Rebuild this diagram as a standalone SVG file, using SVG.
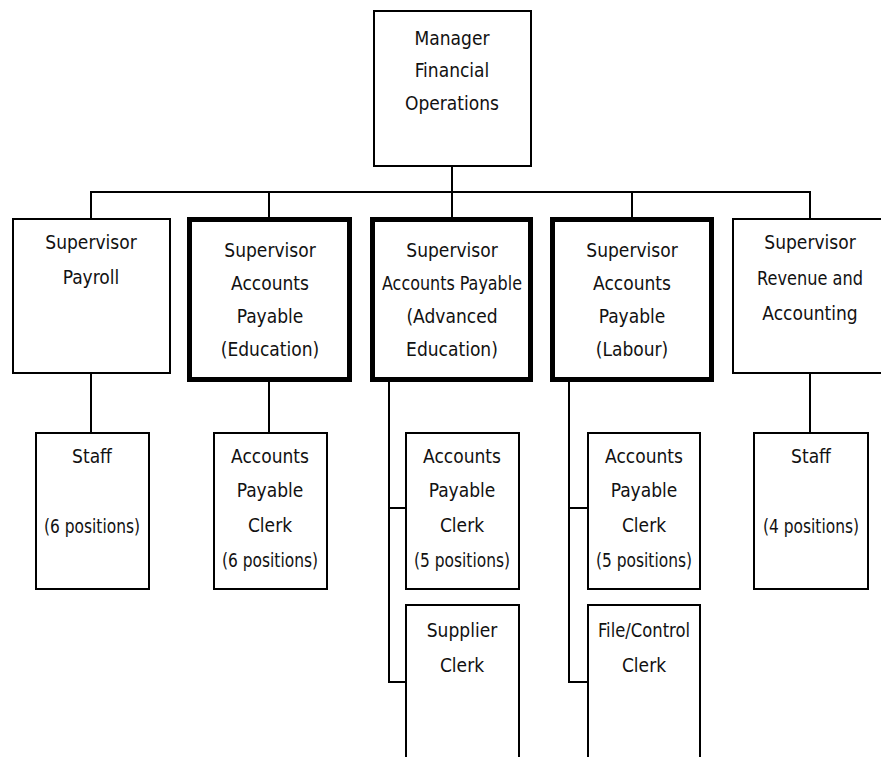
<svg xmlns="http://www.w3.org/2000/svg" width="881" height="757" viewBox="0 0 881 757">
<style>
.box{fill:#fff;stroke:#000;stroke-width:2}
.thick{fill:#fff;stroke:#000;stroke-width:5}
.conn line, .conn polyline{stroke:#000;stroke-width:2;fill:none}
text{font-family:"Liberation Sans Narrow","Arial Narrow","DejaVu Sans Condensed","Liberation Sans",sans-serif;font-size:19px;fill:#111;text-anchor:middle}
</style>
<rect width="881" height="757" fill="#fff"/>
<g id="connectors" class="conn">
<line x1="452" y1="166" x2="452" y2="192"/>
<line x1="90" y1="192" x2="811" y2="192"/>
<line x1="91" y1="192" x2="91" y2="219"/>
<line x1="269" y1="192" x2="269" y2="218"/>
<line x1="452" y1="192" x2="452" y2="218"/>
<line x1="632" y1="192" x2="632" y2="218"/>
<line x1="810" y1="192" x2="810" y2="219"/>
<line x1="91" y1="373" x2="91" y2="433"/>
<line x1="269" y1="381" x2="269" y2="433"/>
<polyline points="389,381 389,682 406,682"/>
<line x1="389" y1="508" x2="406" y2="508"/>
<polyline points="569,381 569,682 588,682"/>
<line x1="569" y1="508" x2="588" y2="508"/>
<line x1="810" y1="373" x2="810" y2="433"/>
</g>
<g id="manager">
<rect class="box" x="374" y="11" width="157" height="155"/>
<text x="452" y="45">Manager</text>
<text x="452" y="77">Financial</text>
<text x="452" y="110">Operations</text>
</g>
<g id="sup-payroll">
<rect class="box" x="13" y="219" width="157" height="154"/>
<text x="91" y="249">Supervisor</text>
<text x="91" y="284">Payroll</text>
</g>
<g id="sup-ap-education">
<rect class="thick" x="189.5" y="219.5" width="160" height="160"/>
<text x="270" y="257">Supervisor</text>
<text x="270" y="290">Accounts</text>
<text x="270" y="323">Payable</text>
<text x="270" y="356">(Education)</text>
</g>
<g id="sup-ap-advanced">
<rect class="thick" x="372.5" y="219.5" width="158" height="160"/>
<text x="452" y="257">Supervisor</text>
<text x="452" y="290" textLength="140" lengthAdjust="spacingAndGlyphs">Accounts Payable</text>
<text x="452" y="323">(Advanced</text>
<text x="452" y="356">Education)</text>
</g>
<g id="sup-ap-labour">
<rect class="thick" x="552.5" y="219.5" width="159" height="160"/>
<text x="632" y="257">Supervisor</text>
<text x="632" y="290">Accounts</text>
<text x="632" y="323">Payable</text>
<text x="632" y="356">(Labour)</text>
</g>
<g id="sup-revenue">
<rect class="box" x="733" y="219" width="170" height="154"/>
<text x="810" y="249">Supervisor</text>
<text x="810" y="285" textLength="106" lengthAdjust="spacingAndGlyphs">Revenue and</text>
<text x="810" y="320">Accounting</text>
</g>
<g id="staff-payroll">
<rect class="box" x="36" y="433" width="113" height="156"/>
<text x="92" y="463">Staff</text>
<text x="92" y="533" textLength="96" lengthAdjust="spacingAndGlyphs">(6 positions)</text>
</g>
<g id="clerk-education">
<rect class="box" x="214" y="433" width="113" height="156"/>
<text x="270" y="463">Accounts</text>
<text x="270" y="497">Payable</text>
<text x="270" y="532">Clerk</text>
<text x="270" y="567" textLength="96" lengthAdjust="spacingAndGlyphs">(6 positions)</text>
</g>
<g id="clerk-advanced">
<rect class="box" x="406" y="433" width="113" height="156"/>
<text x="462" y="463">Accounts</text>
<text x="462" y="497">Payable</text>
<text x="462" y="532">Clerk</text>
<text x="462" y="567" textLength="96" lengthAdjust="spacingAndGlyphs">(5 positions)</text>
</g>
<g id="supplier-clerk">
<rect class="box" x="406" y="605" width="113" height="170"/>
<text x="462" y="637">Supplier</text>
<text x="462" y="672">Clerk</text>
</g>
<g id="clerk-labour">
<rect class="box" x="588" y="433" width="112" height="156"/>
<text x="644" y="463">Accounts</text>
<text x="644" y="497">Payable</text>
<text x="644" y="532">Clerk</text>
<text x="644" y="567" textLength="96" lengthAdjust="spacingAndGlyphs">(5 positions)</text>
</g>
<g id="file-control-clerk">
<rect class="box" x="588" y="605" width="112" height="170"/>
<text x="644" y="637" textLength="92" lengthAdjust="spacingAndGlyphs">File/Control</text>
<text x="644" y="672">Clerk</text>
</g>
<g id="staff-revenue">
<rect class="box" x="754" y="433" width="114" height="156"/>
<text x="811" y="463">Staff</text>
<text x="811" y="533" textLength="96" lengthAdjust="spacingAndGlyphs">(4 positions)</text>
</g>
</svg>
